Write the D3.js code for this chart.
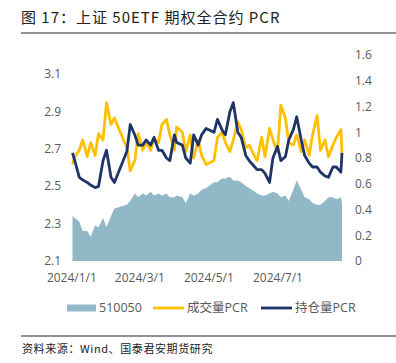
<!DOCTYPE html>
<html>
<head>
<meta charset="utf-8">
<script src="https://cdn.jsdelivr.net/npm/d3@7"></script>
<style>
  body { margin: 0; background: #fff; }
  #chart { width: 396px; height: 363px; }
  text { font-family: "Open Sans", "Noto Sans CJK SC", sans-serif; }
</style>
</head>
<body>
<div id="chart"></div>
<script>
// sampled trading dates (2024)
const dates = [
  "2024-01-02","2024-01-04","2024-01-08","2024-01-11","2024-01-15","2024-01-18","2024-01-22","2024-01-25","2024-01-29",
  "2024-02-01","2024-02-05","2024-02-08","2024-02-19","2024-02-22","2024-02-26","2024-02-29",
  "2024-03-04","2024-03-07","2024-03-11","2024-03-14","2024-03-18","2024-03-21","2024-03-25","2024-03-28",
  "2024-04-01","2024-04-03","2024-04-08","2024-04-11","2024-04-15","2024-04-18","2024-04-22","2024-04-25","2024-04-29",
  "2024-05-06","2024-05-09","2024-05-13","2024-05-16","2024-05-20","2024-05-23","2024-05-27","2024-05-30",
  "2024-06-03","2024-06-06","2024-06-11","2024-06-13","2024-06-17","2024-06-20","2024-06-24","2024-06-27",
  "2024-07-01","2024-07-04","2024-07-08","2024-07-11","2024-07-15","2024-07-18","2024-07-22","2024-07-25","2024-07-29",
  "2024-08-01","2024-08-05","2024-08-08","2024-08-12","2024-08-15","2024-08-19","2024-08-22","2024-08-26","2024-08-27"
];

// 510050 close (left axis)
const etfPrice = [
  2.34,2.33,2.31,2.26,2.26,2.23,2.29,2.28,2.33,
  2.28,2.34,2.38,2.40,2.42,2.46,2.44,
  2.46,2.45,2.47,2.45,2.46,2.45,2.46,2.44,
  2.44,2.45,2.44,2.41,2.46,2.45,2.46,2.48,2.49,
  2.52,2.52,2.54,2.54,2.55,2.53,2.53,2.52,
  2.50,2.49,2.47,2.46,2.45,2.45,2.46,2.47,
  2.46,2.44,2.45,2.42,2.48,2.53,2.48,2.44,2.43,
  2.41,2.40,2.40,2.42,2.44,2.44,2.43,2.44,2.41
];

// 成交量PCR (right axis)
const volumePCR = [
  0.75,0.81,0.86,0.94,0.81,0.92,0.82,0.99,0.94,
  1.23,1.06,1.11,0.88,0.70,0.78,0.99,
  0.86,0.92,0.86,0.95,0.92,1.06,1.10,0.98,
  0.86,1.04,1.00,0.85,0.98,0.80,0.94,0.82,0.75,
  0.78,0.96,1.00,0.92,0.85,0.94,1.08,1.02,
  0.88,0.90,0.81,0.78,0.96,0.81,1.03,0.94,
  0.85,1.21,1.11,0.92,0.90,0.98,0.85,0.94,0.82,
  0.98,1.13,0.86,0.94,0.81,0.90,0.96,1.02,0.84
];

// 持仓量PCR (right axis)
const openIntPCR = [
  0.84,0.78,0.65,0.63,0.61,0.59,0.57,0.58,0.78,
  0.86,0.65,0.61,0.85,1.06,0.98,0.90,
  0.90,0.94,0.90,0.96,0.86,0.86,0.80,0.78,
  0.98,0.92,0.90,0.80,0.76,0.98,0.90,0.98,1.03,
  1.00,1.10,1.02,0.98,1.16,1.23,1.00,0.96,
  0.82,0.78,0.73,0.71,0.71,0.68,0.61,0.80,
  0.89,0.78,0.81,0.94,1.02,1.12,0.94,0.82,0.76,
  0.73,0.73,0.69,0.66,0.65,0.73,0.73,0.69,0.84
];

const leftTicks = [2.1, 2.3, 2.5, 2.7, 2.9, 3.1];
const rightTicks = [0, 0.2, 0.4, 0.6, 0.8, 1, 1.2, 1.4, 1.6];
const xTickDates = ["2024-01-01", "2024-03-01", "2024-05-01", "2024-07-01"];

const parse = d3.timeParse("%Y-%m-%d");
const rows = dates.map((d, i) => ({
  date: parse(d), price: etfPrice[i], vol: volumePCR[i], oi: openIntPCR[i]
}));

const svg = d3.select("#chart").append("svg")
  .attr("width", 396).attr("height", 363);

// title
svg.append("text")
  .attr("x", 21).attr("y", 23)
  .style("font-family", "'Noto Sans CJK SC', sans-serif")
  .style("font-size", "15px")
  .style("letter-spacing", "1px")
  .attr("fill", "#222")
  .text("图 17：上证 50ETF 期权全合约 PCR");

svg.append("line")
  .attr("x1", 21).attr("x2", 396).attr("y1", 33).attr("y2", 33)
  .attr("stroke", "#6e6e6e").attr("stroke-width", 1.3);

// scales
const x = d3.scaleTime()
  .domain([parse("2024-01-02"), parse("2024-08-27")])
  .range([72.5, 342]);
const yL = d3.scaleLinear().domain([2.1, 3.2]).range([261, 55]);
const yR = d3.scaleLinear().domain([0, 1.6]).range([261, 55]);

// area: 510050
svg.append("path")
  .datum(rows)
  .attr("fill", "#90b8c6")
  .attr("d", d3.area().x(d => x(d.date)).y0(yL(2.1)).y1(d => yL(d.price)));

// lines
svg.append("path")
  .datum(rows)
  .attr("fill", "none").attr("stroke", "#ffc000").attr("stroke-width", 2.8)
  .attr("stroke-linejoin", "round")
  .attr("d", d3.line().x(d => x(d.date)).y(d => yR(d.vol)));

svg.append("path")
  .datum(rows)
  .attr("fill", "none").attr("stroke", "#1f3468").attr("stroke-width", 2.8)
  .attr("stroke-linejoin", "round")
  .attr("d", d3.line().x(d => x(d.date)).y(d => yR(d.oi)));

// axes
const axisL = svg.append("g")
  .attr("transform", "translate(61,0)")
  .call(d3.axisLeft(yL).tickValues(leftTicks).tickSize(0).tickPadding(0)
    .tickFormat(d3.format(".1f")));
const axisR = svg.append("g")
  .attr("transform", "translate(355,0)")
  .call(d3.axisRight(yR).tickValues(rightTicks).tickSize(0).tickPadding(0)
    .tickFormat(d => String(+d.toFixed(1))));
const axisB = svg.append("g")
  .attr("transform", "translate(0,273)")
  .call(d3.axisBottom(x).tickValues(xTickDates.map(parse)).tickSize(0).tickPadding(0)
    .tickFormat(d3.timeFormat("%Y/%-m/%-d")));

[axisL, axisR, axisB].forEach(g => {
  g.select(".domain").remove();
  g.selectAll("text")
    .style("font-family", "'Open Sans', sans-serif")
    .style("font-size", "12px")
    .attr("fill", "#595959");
});

// legend
const legend = svg.append("g").attr("transform", "translate(0,308)");
const items = [
  { label: "510050", type: "rect", color: "#90b8c6", x: 67 },
  { label: "成交量PCR", type: "line", color: "#ffc000", x: 153 },
  { label: "持仓量PCR", type: "line", color: "#1f3468", x: 261 }
];
items.forEach(it => {
  if (it.type === "rect") {
    legend.append("rect").attr("x", it.x).attr("y", -3.5).attr("width", 29).attr("height", 7)
      .attr("fill", it.color);
  } else {
    legend.append("line").attr("x1", it.x).attr("x2", it.x + 31).attr("y1", 0).attr("y2", 0)
      .attr("stroke", it.color).attr("stroke-width", 2.8);
  }
  legend.append("text")
    .attr("x", it.x + (it.type === "rect" ? 32 : 34)).attr("y", 0).attr("dy", "0.35em")
    .style("font-family", "'Open Sans', 'Noto Sans CJK SC', sans-serif")
    .style("font-size", "12.5px")
    .attr("fill", "#595959")
    .text(it.label);
});

// footer
svg.append("line")
  .attr("x1", 21).attr("x2", 396).attr("y1", 336).attr("y2", 336)
  .attr("stroke", "#6e6e6e").attr("stroke-width", 1.3);
svg.append("text")
  .attr("x", 22).attr("y", 353)
  .style("font-family", "'Noto Sans CJK SC', sans-serif")
  .style("font-size", "11px")
  .style("letter-spacing", "0.6px")
  .attr("fill", "#222")
  .text("资料来源：Wind、国泰君安期货研究");
</script>
</body>
</html>
